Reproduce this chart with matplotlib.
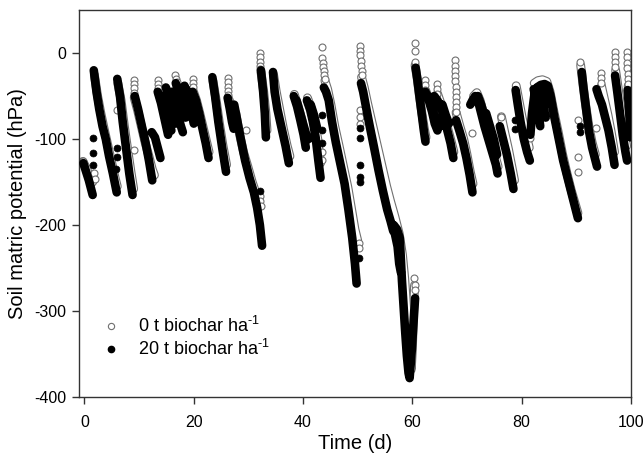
import numpy as np
import matplotlib
matplotlib.use('Agg')
from matplotlib import pyplot as plt
from matplotlib.lines import Line2D

plt.rcParams['font.family'] = ['Liberation Sans', 'DejaVu Sans']
plt.rcParams['mathtext.fontset'] = 'custom'
plt.rcParams['mathtext.rm'] = 'Liberation Sans'
plt.rcParams['mathtext.default'] = 'regular'
plt.rcParams['axes.unicode_minus'] = False

labels = [r'0 t biochar ha$^{\text{-1}}$', r'20 t biochar ha$^{\text{-1}}$']
xticks = [0, 20, 40, 60, 80, 100]
yticks = [-400, -300, -200, -100, 0]

###20 t biochar: drying runs as (day, hPa), None = break between runs
run20 = [
    (-0.2,-128),(0.3,-138),(0.8,-148),(1.3,-160),(1.5,-165), None,
    (1.7,-20),(2.2,-45),(2.7,-65),(3.3,-85),(3.9,-100),(4.5,-120),(5.2,-140),(5.9,-162), None,
    (6.0,-30),(6.5,-50),(7.0,-80),(7.6,-110),(8.2,-140),(8.8,-165), None,
    (9.2,-50),(9.8,-65),(10.5,-85),(11.2,-105),(11.8,-125),(12.4,-148), None,
    (12.3,-92),(12.9,-98),(13.4,-110),(13.9,-122), None,
    (13.4,-45),(14.0,-58),(14.6,-75),(15.3,-95), None,
    (14.2,-50),(14.8,-62),(15.4,-78),(15.9,-90), None,
    (14.9,-40),(15.5,-52),(16.1,-68),(16.6,-82), None,
    (16.0,-45),(16.6,-58),(17.1,-72),(17.6,-84),(18.0,-92), None,
    (16.7,-35),(17.3,-45),(17.9,-58),(18.5,-75), None,
    (18.3,-38),(18.9,-48),(19.5,-60),(20.0,-75), None,
    (18.6,-42),(19.1,-55),(19.6,-70),(20.0,-82), None,
    (19.8,-45),(20.4,-55),(21.0,-70),(21.6,-88),(22.2,-105),(22.7,-122), None,
    (23.4,-28),(23.9,-50),(24.5,-80),(25.2,-110),(25.9,-138), None,
    (26.2,-52),(26.6,-65),(27.0,-80),(27.3,-88), None,
    (27.4,-60),(28.0,-80),(28.6,-100),(29.4,-125),(30.2,-145),(31.0,-162),(31.6,-180),(32.1,-200),(32.5,-224), None,
    (32.3,-20),(32.7,-45),(33.0,-70),(33.2,-98), None,
    (34.5,-22),(34.8,-45),(35.3,-65),(36.0,-85),(36.8,-108),(37.4,-128), None,
    (38.3,-50),(38.9,-62),(39.5,-78),(40.1,-95),(40.5,-110), None,
    (38.8,-55),(39.4,-68),(40.0,-82),(40.6,-95),(41.0,-100), None,
    (40.7,-55),(41.3,-66),(41.8,-80),(42.3,-98),(42.8,-125),(43.2,-145), None,
    (41.4,-60),(42.0,-72),(42.6,-88), None,
    (43.8,-40),(44.2,-45),(44.7,-55),(45.3,-80),(46.0,-104),(46.8,-128),(47.6,-152),(48.3,-182),(49.0,-215),(49.5,-245),(49.8,-268), None,
    (50.6,-35),(51.0,-45),(51.5,-62),(52.2,-85),(53.0,-110),(53.8,-136),(54.6,-160),(55.4,-182),(56.0,-195),(56.5,-207), None,
    (56.6,-200),(57.2,-205),(57.7,-215),(57.9,-240),(58.1,-265),(58.4,-295),(58.7,-325),(59.0,-352),(59.3,-372),(59.5,-378),(59.9,-345),(60.2,-315),(60.5,-285), None,
    (56.8,-210),(57.3,-225),(57.6,-245),(57.9,-255), None,
    (60.6,-17),(60.9,-30),(61.3,-50),(61.7,-70),(62.1,-90),(62.4,-103), None,
    (62.4,-45),(63.0,-55),(63.6,-68),(64.1,-82),(64.6,-90), None,
    (62.9,-50),(63.5,-60),(64.0,-72),(64.6,-80),(65.1,-85), None,
    (64.0,-50),(64.6,-55),(65.2,-62),(65.8,-75),(66.4,-90),(67.0,-105),(67.5,-122), None,
    (65.5,-60),(66.1,-72),(66.7,-82), None,
    (68.0,-78),(68.6,-90),(69.3,-105),(69.9,-122),(70.5,-142),(71.0,-162), None,
    (70.6,-60),(71.0,-55),(71.5,-50),(72.0,-55),(72.6,-70),(73.2,-85),(73.9,-100),(74.6,-115),(75.3,-130),(75.6,-140), None,
    (72.0,-50),(72.6,-60),(73.3,-75),(74.0,-90),(74.6,-100), None,
    (73.5,-70),(74.2,-85),(74.9,-100),(75.5,-118), None,
    (76.0,-85),(76.6,-100),(77.3,-118),(78.0,-140),(78.5,-158), None,
    (78.9,-43),(79.3,-60),(79.8,-80),(80.4,-100),(81.0,-115),(81.5,-125), None,
    (81.6,-95),(81.9,-70),(82.3,-50),(82.8,-40),(83.5,-37),(84.2,-36),(84.8,-38),(85.3,-50),(86.0,-75),(86.8,-100),(87.6,-125),(88.4,-145),(89.2,-165),(89.8,-180),(90.3,-192), None,
    (82.2,-42),(82.7,-55),(83.1,-70),(83.4,-85), None,
    (83.0,-40),(83.5,-50),(84.0,-62),(84.4,-75), None,
    (84.0,-38),(84.5,-45),(85.0,-58), None,
    (91.0,-22),(91.3,-40),(91.8,-65),(92.3,-90),(92.9,-110),(93.5,-125),(93.8,-132), None,
    (93.7,-42),(94.1,-50),(94.7,-60),(95.3,-75),(95.9,-90),(96.5,-110),(97.0,-130), None,
    (97.1,-26),(97.5,-45),(98.0,-70),(98.5,-95),(99.0,-115),(99.3,-125), None,
    (99.4,-43),(99.6,-60),(99.8,-80),(99.9,-98),
]
###single readings during fast rewetting
dots20 = [
    (1.6,-99),(1.6,-116),(1.5,-130),(5.9,-110),(5.9,-121),(5.8,-135),(32.1,-160),
    (43.5,-72),(43.5,-90),(43.5,-105),(50.3,-238),(50.5,-87),(50.5,-99),(50.4,-130),
    (50.4,-144),(50.5,-150),(78.7,-78),(78.7,-88),(90.6,-85),(90.6,-92),
]

###0 t biochar
run0 = [
    (-0.3,-126),(0.3,-133),(0.9,-143),(1.5,-150), None,
    (1.8,-25),(2.4,-50),(3.0,-70),(3.6,-88),(4.2,-105),(4.9,-125),(5.6,-145),(6.0,-155), None,
    (6.1,-35),(6.7,-55),(7.3,-85),(7.9,-112),(8.5,-138),(9.0,-158), None,
    (9.1,-52),(9.7,-66),(10.4,-85),(11.1,-104),(11.8,-120),(12.4,-135),(12.8,-142), None,
    (13.5,-45),(14.2,-58),(14.9,-72),(15.6,-88), None,
    (17.0,-38),(17.6,-48),(18.3,-60),(18.9,-72), None,
    (19.9,-44),(20.5,-55),(21.1,-70),(21.7,-86),(22.3,-102),(22.8,-115), None,
    (23.5,-32),(24.1,-55),(24.7,-82),(25.3,-106),(26.0,-130), None,
    (26.3,-52),(27.0,-62),(27.7,-70),(28.3,-92),(29.1,-115),(29.9,-132),(30.7,-150),(31.5,-165),(32.1,-178), None,
    (32.3,-22),(32.8,-45),(33.2,-70),(33.4,-90), None,
    (34.6,-25),(35.1,-45),(35.7,-65),(36.4,-88),(37.1,-108),(37.6,-120), None,
    (38.4,-48),(39.1,-62),(39.8,-78),(40.5,-100), None,
    (40.8,-52),(41.5,-64),(42.1,-80),(42.7,-100),(43.2,-128), None,
    (44.0,-32),(44.5,-42),(45.1,-60),(45.8,-85),(46.6,-108),(47.4,-132),(48.2,-156),(48.9,-182),(49.5,-205),(50.0,-218), None,
    (50.7,-28),(51.2,-40),(51.8,-58),(52.6,-80),(53.5,-105),(54.4,-130),(55.3,-155),(56.0,-172),(56.8,-190),(57.6,-210),(58.2,-235),(58.6,-262),(59.0,-300),(59.4,-340),(59.8,-368),(60.0,-345),(60.2,-305),(60.4,-270), None,
    (60.5,-14),(60.9,-30),(61.3,-50),(61.7,-68),(62.2,-88),(62.5,-98), None,
    (62.4,-43),(63.0,-52),(63.6,-62),(64.2,-75), None,
    (64.6,-47),(65.2,-58),(65.8,-70),(66.4,-86),(67.0,-100),(67.6,-115), None,
    (68.0,-69),(68.7,-85),(69.4,-100),(70.0,-118),(70.6,-138),(71.1,-152), None,
    (71.2,-50),(71.8,-46),(72.4,-55),(73.0,-70),(73.7,-86),(74.4,-102),(75.1,-118),(75.7,-132), None,
    (76.3,-74),(76.9,-92),(77.6,-112),(78.3,-135),(78.7,-148), None,
    (79.0,-38),(79.5,-55),(80.1,-75),(80.8,-95),(81.4,-110), None,
    (82.3,-35),(83.0,-32),(83.8,-31),(84.6,-33),(85.2,-45),(85.9,-68),(86.7,-92),(87.5,-118),(88.3,-140),(89.1,-160),(89.8,-175),(90.3,-186), None,
    (90.8,-14),(91.2,-35),(91.7,-60),(92.3,-85),(92.9,-104),(93.5,-118), None,
    (94.6,-38),(95.2,-55),(95.8,-72),(96.4,-92),(97.0,-115), None,
    (97.2,-20),(97.7,-42),(98.2,-66),(98.7,-88),(99.2,-108), None,
    (99.5,-38),(99.7,-55),(99.9,-72),
]
dots0 = [
    (-0.3,-126),(0.0,-131),(1.8,-140),(1.9,-146),(5.9,-66),
    (9.0,-31),(9.0,-36),(9.0,-41),(9.0,-46),(9.0,-50),(9.0,-113),
    (13.5,-31),(13.5,-36),(13.5,-41),
    (16.6,-26),(16.8,-30),(17.0,-34),(16.7,-38),
    (19.9,-30),(19.9,-35),(19.9,-40),
    (26.2,-29),(26.2,-34),(26.2,-39),(26.2,-44),(26.2,-49),(29.5,-89),
    (32.2,0),(32.2,-5),(32.2,-10),(32.2,-15),(32.2,-19),(32.2,-166),(32.2,-172),(32.3,-178),
    (43.5,7),(43.5,-6),(43.6,-11),(43.7,-16),(43.8,-21),(43.9,-26),(44.0,-30),(43.5,-115),(43.5,-124),
    (50.2,-221),(50.3,-227),
    (50.5,8),(50.5,3),(50.5,-2),(50.6,-9),(50.6,-15),(50.7,-21),(50.7,-26),(50.4,-66),(50.4,-74),(50.5,-82),
    (60.3,-262),(60.4,-270),(60.5,-276),(60.4,12),(60.4,2),(60.5,-10),
    (62.3,-31),(62.4,-37),(62.4,-43),(64.5,-36),(64.5,-42),(64.6,-47),
    (67.8,-8),(67.8,-15),(67.8,-21),(67.8,-27),(67.8,-33),(67.9,-39),(67.9,-45),(67.9,-51),(67.9,-57),(68.0,-63),(68.0,-69),
    (71.0,-93),(76.3,-74),(81.5,-99),
    (90.7,-10),(90.4,-78),(90.4,-121),(90.4,-138),(93.6,-87),
    (94.5,-23),(94.5,-29),(94.5,-35),
    (97.1,1),(97.1,-4),(97.1,-10),(97.1,-16),
    (99.3,1),(99.3,-5),(99.3,-11),(99.3,-17),(99.4,-24),(99.4,-30),(99.4,-36),
]

def cols(pts):
    t = np.array([np.nan if p is None else p[0] for p in pts])
    v = np.array([np.nan if p is None else p[1] for p in pts])
    return t, v

fig = plt.figure(figsize=(6.44, 4.59), dpi=100)
ax = fig.add_axes([0.1227, 0.135, 0.857, 0.843])

edge = '#707070'
ms = 5
t, v = cols(run0)
ax.plot(t, v, color=edge, lw=6.4, solid_capstyle='round', solid_joinstyle='round', zorder=2)
ax.plot(t, v, color='white', lw=4.8, solid_capstyle='round', solid_joinstyle='round', zorder=2)
t, v = cols(dots0)
ax.plot(t, v, 'o', ms=ms, mfc='white', mec=edge, mew=0.8, zorder=2)

t, v = cols(run20)
ax.plot(t, v, color='black', lw=6.2, solid_capstyle='round', solid_joinstyle='round', zorder=3)
t, v = cols(dots20)
ax.plot(t, v, 'o', ms=ms, mfc='black', mec='black', mew=0.5, zorder=3)

ax.set_xlim(-1, 100)
ax.set_ylim(-400, 50)
ax.set_xticks(xticks)
ax.set_yticks(yticks)
for s in ax.spines.values():
    s.set_color('#333333')
    s.set_linewidth(1.0)
ax.tick_params(direction='out', length=5, width=1, color='#333333', labelsize=11.5, top=False, right=False)
ax.tick_params(axis='x', pad=8)
ax.tick_params(axis='y', pad=4)
ax.set_xlabel('Time (d)', fontsize=14.5, labelpad=3)
ax.set_ylabel('Soil matric potential (hPa)', fontsize=14.5, labelpad=5)

handles = [Line2D([], [], ls='', marker='o', ms=4.5, mfc='white', mec=edge, mew=0.8),
           Line2D([], [], ls='', marker='o', ms=4.5, mfc='black', mec='black')]
ax.legend(handles, labels, loc='lower left', bbox_to_anchor=(0.02, 0.08), frameon=False,
          fontsize=13, handlelength=1.5, handletextpad=0.75, labelspacing=0.15, borderaxespad=0)

plt.savefig('out.png', dpi=100)
plt.close()
